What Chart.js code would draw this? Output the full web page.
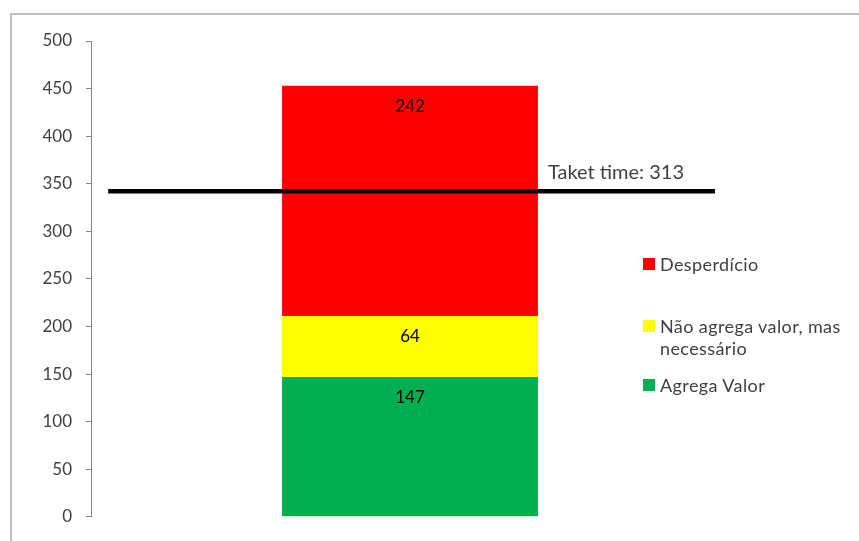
<!DOCTYPE html>
<html>
<head>
<meta charset="utf-8">
<script src="https://cdn.jsdelivr.net/npm/chart.js@4.4.1/dist/chart.umd.min.js"></script>
<style>
  html,body{margin:0;padding:0;background:#fff;}
  #wrap{position:relative;width:859px;height:541px;overflow:hidden;background:#fff;}
  #frame{position:absolute;left:10px;top:13px;width:900px;height:600px;border:2px solid #bfbfbf;box-sizing:border-box;}
  canvas{position:absolute;left:0;top:0;}
  .lg{position:absolute;font-family:Lato,"Open Sans",sans-serif;font-size:18px;letter-spacing:0.4px;color:#404040;line-height:22px;white-space:nowrap;}
  .lg i{position:absolute;left:-17px;top:5px;width:12px;height:12px;}
</style>
</head>
<body>
<div id="wrap">
  <div id="frame"></div>
  <canvas id="c" width="859" height="541"></canvas>
  <div class="lg" style="left:660px;top:253px;"><i style="background:#ff0000"></i>Desperdício</div>
  <div class="lg" style="left:660px;top:315px;"><i style="background:#ffff00"></i>Não agrega valor, mas<br>necessário</div>
  <div class="lg" style="left:660px;top:374px;"><i style="background:#00b050"></i>Agrega Valor</div>
</div>
<script>
const categories = [""];
const seriesNames = ["Agrega Valor", "Não agrega valor, mas necessário", "Desperdício"];
const agregaValor = [147];
const naoAgrega = [64];
const desperdicio = [242];
const taktLineValue = 342;
const taktLabel = "Taket time: 313";
const taktLineSpan = [0.027, 0.978];
const yTicks = [0, 50, 100, 150, 200, 250, 300, 350, 400, 450, 500];

const barLabels = {
  id: 'barLabels',
  afterDatasetsDraw(chart) {
    const ctx = chart.ctx;
    ctx.save();
    ctx.font = '17px Lato, "Open Sans", sans-serif';
    ctx.fillStyle = '#000000';
    ctx.textAlign = 'center';
    ctx.textBaseline = 'middle';
    for (let d = 0; d < 3; d++) {
      const meta = chart.getDatasetMeta(d);
      meta.data.forEach((el, i) => {
        ctx.fillText(String(chart.data.datasets[d].data[i]), el.x, el.y + 21);
      });
    }
    const barEl = chart.getDatasetMeta(2).data[0];
    const ly = chart.getDatasetMeta(3).data[0].y;
    ctx.font = '20px Lato, "Open Sans", sans-serif';
    ctx.fillStyle = '#404040';
    ctx.textAlign = 'left';
    ctx.fillText(taktLabel, barEl.x + barEl.width / 2 + 10, ly - 19);
    ctx.restore();
  }
};

const barOpts = { stack: 's', grouped: false, barPercentage: 0.401, categoryPercentage: 1, order: 1 };

new Chart(document.getElementById('c'), {
  type: 'bar',
  data: {
    labels: categories,
    datasets: [
      Object.assign({ label: seriesNames[0], data: agregaValor, backgroundColor: '#00b050' }, barOpts),
      Object.assign({ label: seriesNames[1], data: naoAgrega, backgroundColor: '#ffff00' }, barOpts),
      Object.assign({ label: seriesNames[2], data: desperdicio, backgroundColor: '#ff0000' }, barOpts),
      { type: 'line', label: 'takt', xAxisID: 'x2', stack: 'line', order: 0,
        data: [{x: taktLineSpan[0], y: taktLineValue}, {x: taktLineSpan[1], y: taktLineValue}],
        borderColor: '#000000', borderWidth: 4.5, pointRadius: 0, fill: false }
    ]
  },
  options: {
    responsive: false,
    animation: false,
    layout: { padding: { left: 0, top: 41, right: 130, bottom: 24 } },
    plugins: { legend: { display: false }, tooltip: { enabled: false } },
    scales: {
      x: { display: false, stacked: true },
      x2: { type: 'linear', display: false, min: 0, max: 1, offset: false },
      y: {
        stacked: true, min: 0, max: 500,
        afterFit(s) { s.width = 91; },
        afterBuildTicks(s) { s.ticks = yTicks.map(v => ({ value: v })); },
        border: { display: true, color: '#868686', width: 1 },
        grid: { drawOnChartArea: false, drawTicks: true, tickLength: 5, color: '#868686' },
        ticks: { padding: 14, color: '#404040', font: { family: 'Lato, "Open Sans", sans-serif', size: 17 } }
      }
    }
  },
  plugins: [barLabels]
});
</script>
</body>
</html>
